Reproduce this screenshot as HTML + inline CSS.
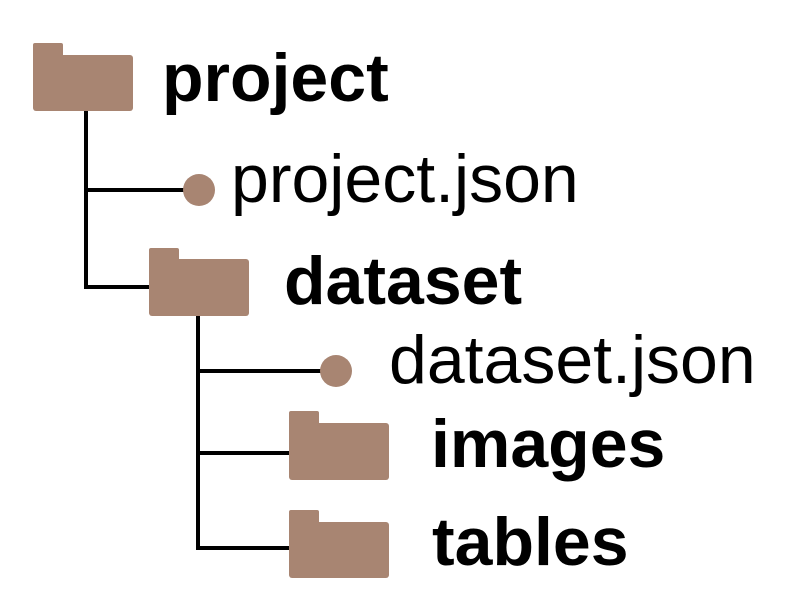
<!DOCTYPE html>
<html><head><style>
html,body{margin:0;padding:0;background:#fff;width:794px;height:601px;overflow:hidden}
text{font-family:"Liberation Sans",Arial,sans-serif;font-size:68px;fill:#000}
.b{font-weight:bold}
</style></head><body>
<svg width="794" height="601" xmlns="http://www.w3.org/2000/svg">
<g stroke="#000" stroke-width="4" fill="none">
<path d="M86 111 V287 H150"/>
<path d="M86 190 H199"/>
<path d="M198 316 V548 H290"/>
<path d="M198 371 H336"/>
<path d="M196 453 H290"/>
</g>
<g fill="#a88572">
<rect x="33" y="43" width="30" height="20" rx="2"/>
<rect x="33" y="55" width="100" height="56" rx="3"/>
<circle cx="199" cy="190" r="16"/>
<rect x="149" y="248" width="30" height="20" rx="2"/>
<rect x="149" y="259" width="100" height="57" rx="3"/>
<circle cx="336" cy="371" r="16"/>
<rect x="289" y="411" width="30" height="20" rx="2"/>
<rect x="289" y="423" width="100" height="57" rx="3"/>
<rect x="289" y="510" width="30" height="20" rx="2"/>
<rect x="289" y="522" width="100" height="56" rx="3"/>
</g>
<text class="b" x="162" y="101">project</text>
<text x="231" y="202">project.json</text>
<text class="b" x="284" y="304">dataset</text>
<text x="389" y="383">dataset.json</text>
<text class="b" x="431" y="467">images</text>
<text class="b" x="432" y="565">tables</text>
</svg>
</body></html>
